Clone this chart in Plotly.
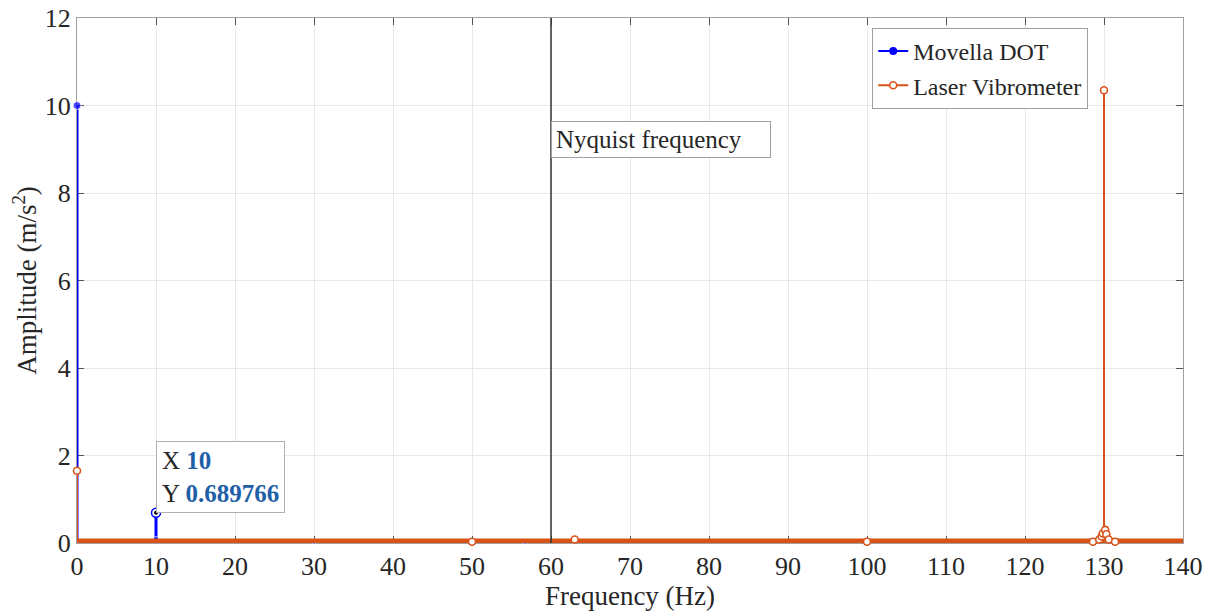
import plotly.graph_objects as go

# Movella DOT spectrum peaks (Hz, m/s^2)
dot_freq = [0, 10, 10, 30, 50, 56.7]
dot_amp = [10.0, 0.689766, 0.08, 0.03, 0.03, 0.03]
dot_band = [0, 60]

# Laser vibrometer spectrum peaks
laser_freq = [0, 50, 63, 100, 128.6, 129.4, 129.7, 129.85, 130, 130.15, 130.3, 130.6, 131.4]
laser_amp = [1.65, 0.03, 0.08, 0.03, 0.03, 0.08, 0.15, 0.22, 10.35, 0.3, 0.2, 0.08, 0.03]
laser_band = [0, 140]

nyquist = 60
tip_x, tip_y = 10, 0.689766

BLUE = "#0000FF"
ORANGE = "#D95319"
FONT = "Liberation Serif"


def stems(xs, ys):
    sx, sy = [], []
    for x, y in zip(xs, ys):
        sx += [x, x, None]
        sy += [0, y, None]
    return sx, sy


fig = go.Figure()

# Movella DOT
fig.add_trace(go.Scatter(x=dot_band, y=[0, 0], mode="lines",
                         line=dict(color=BLUE, width=3), showlegend=False, hoverinfo="skip"))
sx, sy = stems(dot_freq, dot_amp)
fig.add_trace(go.Scatter(x=sx, y=sy, mode="lines", line=dict(color=BLUE, width=3),
                         showlegend=False, hoverinfo="skip"))
fig.add_trace(go.Scatter(x=dot_freq, y=dot_amp, mode="markers", cliponaxis=False,
                         marker=dict(color=BLUE, size=[8, 8, 6, 5, 5, 5]), showlegend=False))

# Laser Vibrometer
sx, sy = stems(laser_freq, laser_amp)
fig.add_trace(go.Scatter(x=sx, y=sy, mode="lines", line=dict(color=ORANGE, width=2),
                         showlegend=False, hoverinfo="skip"))
fig.add_trace(go.Scatter(x=laser_band, y=[0, 0], mode="lines",
                         line=dict(color=ORANGE, width=9), showlegend=False, hoverinfo="skip"))
fig.add_trace(go.Scatter(x=laser_freq, y=laser_amp, mode="markers", cliponaxis=False,
                         marker=dict(color="white", size=7, line=dict(color=ORANGE, width=1.6)),
                         showlegend=False))

# datatip marker
fig.add_trace(go.Scatter(x=[tip_x], y=[tip_y], mode="markers",
                         marker=dict(color="white", size=9, line=dict(color=BLUE, width=1.5)),
                         showlegend=False, hoverinfo="skip"))
fig.add_trace(go.Scatter(x=[tip_x], y=[tip_y], mode="markers",
                         marker=dict(color="black", size=4), showlegend=False, hoverinfo="skip"))

# legend entries
fig.add_trace(go.Scatter(x=[None], y=[None], mode="lines+markers", name="Movella DOT",
                         line=dict(color=BLUE, width=2), marker=dict(color=BLUE, size=8)))
fig.add_trace(go.Scatter(x=[None], y=[None], mode="lines+markers", name="Laser Vibrometer",
                         line=dict(color=ORANGE, width=2),
                         marker=dict(color="white", size=7, line=dict(color=ORANGE, width=1.6))))

fig.add_shape(type="line", x0=nyquist, x1=nyquist, y0=0, y1=12, xref="x", yref="y",
              line=dict(color="#333333", width=1.5))

fig.add_annotation(x=nyquist, y=9.65, xref="x", yref="y", xanchor="left", yanchor="top",
                   text="Nyquist frequency    ", showarrow=False, align="left",
                   font=dict(family=FONT, size=25, color="#262626"),
                   bgcolor="white", bordercolor="#A0A0A0", borderwidth=1, borderpad=4)

fig.add_annotation(x=tip_x, y=tip_y, xref="x", yref="y", xanchor="left", yanchor="bottom",
                   text=f"X <b><span style='color:#1F5FA8'>{tip_x}</span></b><br>"
                        f"Y <b><span style='color:#1F5FA8'>{tip_y}</span></b>",
                   showarrow=False, align="left",
                   font=dict(family=FONT, size=25, color="#262626"),
                   bgcolor="white", bordercolor="#B0B0B0", borderwidth=1, borderpad=5)

axis_common = dict(showline=True, mirror="ticks", linecolor="#A0A0A0", linewidth=1,
                   ticks="inside", ticklen=7, tickcolor="#555555",
                   showgrid=True, gridcolor="#E8E8E8", zeroline=False,
                   automargin=False, layer="below traces",
                   tickfont=dict(family=FONT, size=26, color="#262626"))

fig.update_layout(
    width=1210, height=616,
    margin=dict(l=77, r=27, t=18, b=73),
    paper_bgcolor="white", plot_bgcolor="white",
    font=dict(family=FONT, color="#262626"),
    xaxis=dict(range=[0, 140], dtick=10,
               title=dict(text="Frequency (Hz)", font=dict(family=FONT, size=27), standoff=1),
               **axis_common),
    yaxis=dict(range=[0, 12], dtick=2,
               title=dict(text="Amplitude (m/s<sup>2</sup>)", font=dict(family=FONT, size=27), standoff=0),
               **axis_common),
    legend=dict(x=0.719, y=0.981, xanchor="left", yanchor="top",
                bgcolor="white", bordercolor="#A0A0A0", borderwidth=1,
                font=dict(family=FONT, size=24, color="#262626"),
                tracegroupgap=0, itemwidth=30),
    showlegend=True,
)

# drop the default 8px page margin so the figure sits at the window corner
fig.write_html("out.html", config={"displayModeBar": False},
               post_script="document.body.style.margin='0';")
